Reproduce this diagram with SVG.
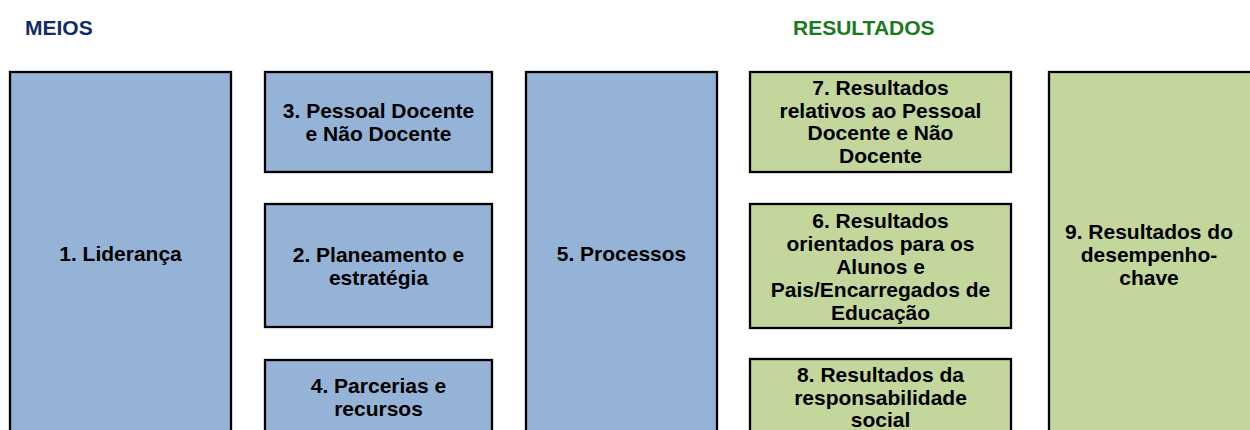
<svg xmlns="http://www.w3.org/2000/svg" width="1250" height="430" viewBox="0 0 1250 430">
<style>
.b{fill:#95B3D7;stroke:#000;stroke-width:2.3}
.g{fill:#C3D69B;stroke:#000;stroke-width:2.3}
.t{font-family:"Liberation Sans",Arial,sans-serif;font-weight:bold;font-size:21px;fill:#000;text-anchor:middle}
.h{font-family:"Liberation Sans",Arial,sans-serif;font-weight:bold;font-size:21px}
</style>
<rect width="1250" height="430" fill="#fff"/>
<text class="h" x="25" y="35" fill="#0F2D69">MEIOS</text>
<text class="h" x="793" y="35" fill="#1B7A1B">RESULTADOS</text>
<g id="n1"><rect class="b" x="10" y="72" width="221" height="364"/><text class="t" x="120.5" y="261">1. Liderança</text></g>
<g id="n3"><rect class="b" x="265" y="72" width="227" height="100"/><text class="t" x="378.5" y="118">3. Pessoal Docente</text><text class="t" x="378.5" y="141">e Não Docente</text></g>
<g id="n2"><rect class="b" x="265" y="204" width="227" height="123"/><text class="t" x="378.5" y="261.5">2. Planeamento e</text><text class="t" x="378.5" y="284.5">estratégia</text></g>
<g id="n4"><rect class="b" x="265" y="360" width="227" height="74"/><text class="t" x="378.5" y="393">4. Parcerias e</text><text class="t" x="378.5" y="416">recursos</text></g>
<g id="n5"><rect class="b" x="526" y="72" width="191" height="364"/><text class="t" x="621.5" y="261">5. Processos</text></g>
<g id="n7"><rect class="g" x="750" y="72" width="261" height="100"/><text class="t" x="880.5" y="95">7. Resultados</text><text class="t" x="880.5" y="117.5">relativos ao Pessoal</text><text class="t" x="880.5" y="140">Docente e Não</text><text class="t" x="880.5" y="162.5">Docente</text></g>
<g id="n6"><rect class="g" x="750" y="204" width="261" height="124"/><text class="t" x="880.5" y="227.5">6. Resultados</text><text class="t" x="880.5" y="250.5">orientados para os</text><text class="t" x="880.5" y="273.5">Alunos e</text><text class="t" x="880.5" y="296.5">Pais/Encarregados de</text><text class="t" x="880.5" y="319.5">Educação</text></g>
<g id="n8"><rect class="g" x="750" y="359" width="261" height="80"/><text class="t" x="880.5" y="381.5">8. Resultados da</text><text class="t" x="880.5" y="404.5">responsabilidade</text><text class="t" x="880.5" y="427">social</text></g>
<g id="n9"><rect class="g" x="1049" y="72" width="210" height="364"/><text class="t" x="1149" y="239">9. Resultados do</text><text class="t" x="1149" y="262">desempenho-</text><text class="t" x="1149" y="285">chave</text></g>
<g id="connectors"></g>
</svg>
